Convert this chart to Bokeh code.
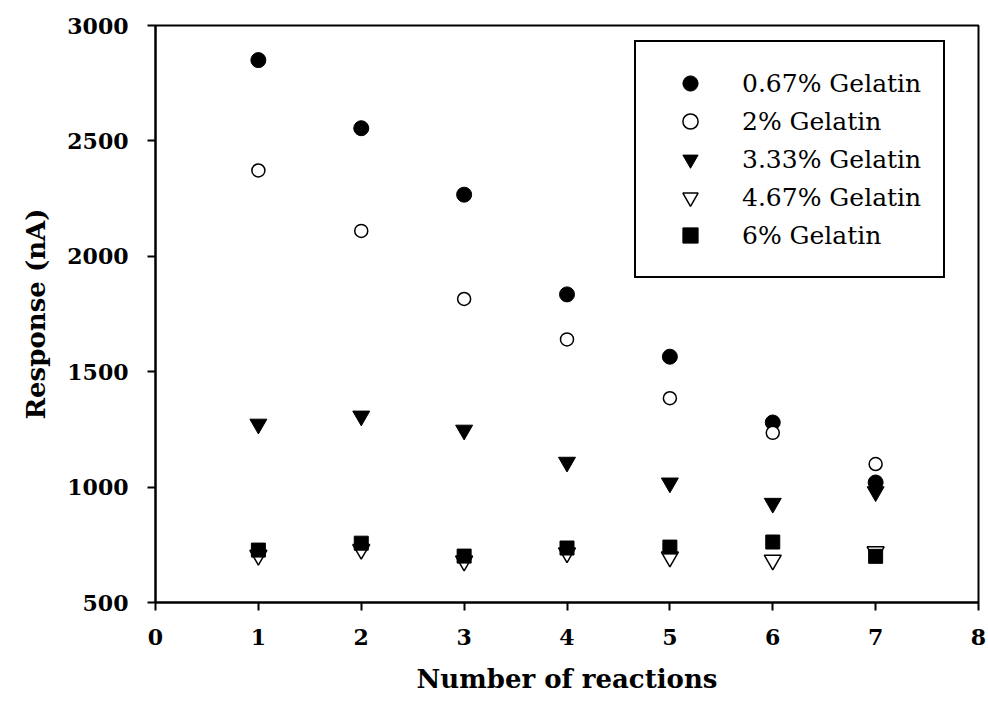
from bokeh.plotting import figure
from bokeh.models import ColumnDataSource, Legend, LegendItem, FixedTicker, Range1d
from bokeh.embed import file_html
from bokeh.resources import INLINE

reactions = [1, 2, 3, 4, 5, 6, 7]
gel_067 = [2850, 2555, 2267, 1835, 1565, 1280, 1020]
gel_2 = [2372, 2110, 1815, 1640, 1385, 1235, 1100]
gel_333 = [1273, 1308, 1247, 1108, 1018, 930, 980]
gel_467 = [705, 730, 680, 715, 697, 684, 720]
gel_6 = [727, 757, 701, 736, 740, 762, 700]

series_names = ["0.67% Gelatin", "2% Gelatin", "3.33% Gelatin", "4.67% Gelatin", "6% Gelatin"]
x_ticks = [0, 1, 2, 3, 4, 5, 6, 7, 8]
y_ticks = [500, 1000, 1500, 2000, 2500, 3000]

FONT = "DejaVu Serif"

p = figure(width=988, height=717, output_backend="svg", toolbar_location=None,
           x_range=Range1d(0, 8), y_range=Range1d(500, 3000),
           min_border_left=155, min_border_right=10, min_border_top=25, min_border_bottom=115)
p.background_fill_color = "white"
p.border_fill_color = "white"
p.outline_line_color = "black"
p.outline_line_width = 2
p.outline_line_alpha = 1
p.grid.visible = False

for ax in (p.xaxis, p.yaxis):
    ax.axis_line_width = 2
    ax.axis_line_color = "black"
    ax.major_tick_line_width = 2
    ax.major_tick_line_color = "black"
    ax.major_tick_out = 8
    ax.major_tick_in = 0
    ax.minor_tick_line_color = None
    ax.major_label_text_font = FONT
    ax.major_label_text_font_style = "bold"
    ax.major_label_text_font_size = "22px"
    ax.major_label_text_color = "black"
    ax.axis_label_text_font = FONT
    ax.axis_label_text_font_style = "bold"
    ax.axis_label_text_font_size = "26px"
    ax.axis_label_text_color = "black"

p.xaxis.ticker = FixedTicker(ticks=x_ticks)
p.yaxis.ticker = FixedTicker(ticks=y_ticks)
p.xaxis.major_label_standoff = 18
p.yaxis.major_label_standoff = 19
p.xaxis.axis_label = "Number of reactions"
p.yaxis.axis_label = "Response (nA)"
p.xaxis.axis_label_standoff = 16
p.yaxis.axis_label_standoff = 13

src = ColumnDataSource(dict(x=reactions, a=gel_067, b=gel_2, c=gel_333, d=gel_467, e=gel_6))

r1 = p.scatter("x", "a", source=src, marker="circle", size=15, fill_color="black", line_color="black")
r2 = p.scatter("x", "b", source=src, marker="circle", size=13, fill_color="white", line_color="black", line_width=1.5)
r3 = p.scatter("x", "c", source=src, marker="inverted_triangle", size=17, fill_color="black", line_color="black")
r4 = p.scatter("x", "d", source=src, marker="inverted_triangle", size=17, fill_color="white", line_color="black", line_width=1.5)
r5 = p.scatter("x", "e", source=src, marker="square", size=14, fill_color="black", line_color="black")

items = [LegendItem(label=n, renderers=[r]) for n, r in zip(series_names, [r1, r2, r3, r4, r5])]
legend = Legend(items=items, location=(479, 324), orientation="vertical",
                margin=0, padding=22, spacing=0,
                glyph_width=64, glyph_height=38, label_height=38, label_standoff=20,
                label_text_font=FONT, label_text_font_size="25px", label_text_color="black",
                border_line_color="black", border_line_width=2, border_line_alpha=1,
                background_fill_color="white", background_fill_alpha=1)
p.add_layout(legend, "center")

open("out.html", "w").write(file_html(p, INLINE))
